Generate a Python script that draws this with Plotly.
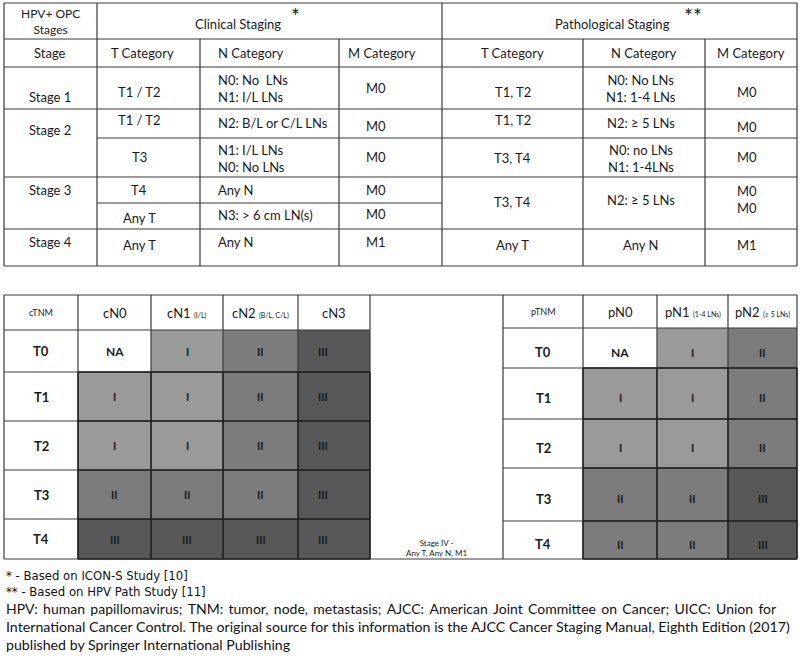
import plotly.graph_objects as go

W, H = 800, 658
FONT = "Lato, 'Open Sans', sans-serif"
NARROW = "'Liberation Sans Narrow', 'DejaVu Sans Condensed', Lato, sans-serif"
INK = "#1a1a1a"

# ---------------- data ----------------
clin_title = "Clinical Staging"
path_title = "Pathological Staging"
head_left = "HPV+ OPC<br>Stages"
clin_header = ["Stage", "T Category", "N Category", "M Category"]
path_header = ["T Category", "N Category", "M Category"]
stage_labels = ["Stage 1", "Stage 2", "Stage 3", "Stage 4"]

clin_T = ["T1 / T2", "T1 / T2", "T3", "T4", "Any T", "Any T"]
clin_N = ["N0: No  LNs<br>N1: I/L LNs", "N2: B/L or C/L LNs", "N1: I/L LNs<br>N0: No LNs",
          "Any N", "N3: > 6 cm LN(s)", "Any N"]
clin_M = ["M0", "M0", "M0", "M0", "M0", "M1"]

path_T = ["T1, T2", "T1, T2", "T3, T4", "T3, T4", "Any T"]
path_N = ["N0: No LNs<br>N1: 1-4 LNs", "N2: ≥ 5 LNs", "N0: no LNs<br>N1: 1-4LNs", "N2: ≥ 5 LNs", "Any N"]
path_M = ["M0", "M0", "M0", "M0<br>M0", "M1"]

grid_rows = ["T0", "T1", "T2", "T3", "T4"]
c_corner = "cTNM"
c_cols = ["cN0", "cN1 <span style='font-size:7px'>(I/L)</span>",
          "cN2 <span style='font-size:7px'>(B/L, C/L)</span>", "cN3"]
c_stage = [[0, 1, 2, 3],
           [1, 1, 2, 3],
           [1, 1, 2, 3],
           [2, 2, 2, 3],
           [3, 3, 3, 3]]
p_corner = "pTNM"
p_cols = ["pN0", "pN1 <span style='font-size:7px'>(1-4 LNs)</span>",
          "pN2 <span style='font-size:7px'>(≥ 5 LNs)</span>"]
p_stage = [[0, 1, 2],
           [1, 1, 2],
           [1, 1, 2],
           [2, 2, 3],
           [2, 2, 3]]
roman = {0: "NA", 1: "I", 2: "II", 3: "III"}
stage4_note = "Stage IV -<br>Any T, Any N, M1"

footnotes = [
    "* - Based on ICON-S Study [10]",
    "** - Based on HPV Path Study [11]",
    "HPV: human papillomavirus; TNM: tumor, node, metastasis; AJCC: American Joint Committee on Cancer; UICC: Union for",
    "International Cancer Control. The original source for this information is the AJCC Cancer Staging Manual, Eighth Edition (2017)",
    "published by Springer International Publishing",
]
justify_line = 2  # this footnote line is justified in the source

# ---------------- layout geometry ----------------
top_x = [4, 97, 200, 339, 442, 583, 705, 797]
top_y = [3, 39, 67, 109, 138, 177, 203, 229, 266]
clin_T_y = [92, 120, 157, 190, 218, 245]
clin_N_y = [88, 123, 158, 190, 215, 242]
clin_M_y = [88, 126, 157, 190, 214, 242]
stage_y = [97, 130, 190, 242]
path_T_y = [92, 120, 158, 202, 245]
path_N_y = [88, 123, 158, 200, 245]
path_M_y = [92, 127, 157, 199, 245]

c_x = [4, 78, 151, 223, 298, 370]
c_y = [295, 330, 372, 421, 470, 519, 559]
p_x = [503, 583, 657, 728, 797]
p_y = [295, 328, 368, 419, 468, 521, 559]
foot_y = [575, 591, 608, 626, 644]

stage_colors = [[0, "#ffffff"], [1 / 3, "#9a9a9a"], [2 / 3, "#7c7c7c"], [1, "#585858"]]

fig = go.Figure()

fig.add_trace(go.Heatmap(z=c_stage, x=c_x[1:], y=c_y[1:], colorscale=stage_colors,
                         zmin=0, zmax=3, showscale=False, hoverinfo="skip"))
fig.add_trace(go.Heatmap(z=p_stage, x=p_x[1:], y=p_y[1:], colorscale=stage_colors,
                         zmin=0, zmax=3, showscale=False, hoverinfo="skip"))

shapes = []
LC = "#3a3a3a"


def hline(y, x0, x1, w=1.2, c=LC):
    shapes.append(dict(type="line", x0=x0, x1=x1, y0=y, y1=y, line=dict(color=c, width=w)))


def vline(x, y0, y1, w=1.2, c=LC):
    shapes.append(dict(type="line", x0=x, x1=x, y0=y0, y1=y1, line=dict(color=c, width=w)))


X0, X1 = top_x[0], top_x[-1]
Y0, Y1 = top_y[0], top_y[-1]
hline(Y0, X0, X1); hline(Y1, X0, X1)
vline(X0, Y0, Y1); vline(X1, Y0, Y1)
hline(top_y[1], X0, X1)
hline(top_y[2], X0, X1)
hline(top_y[3], X0, X1)
hline(top_y[4], top_x[1], X1)
hline(top_y[5], X0, X1)
hline(top_y[6], top_x[1], top_x[4])
hline(top_y[7], X0, X1)
vline(top_x[1], Y0, Y1)
vline(top_x[4], Y0, Y1)
for xx in (top_x[2], top_x[3], top_x[5], top_x[6]):
    vline(xx, top_y[1], Y1)

hline(c_y[0], c_x[0], p_x[-1])
hline(c_y[-1], c_x[0], p_x[-1])
for xx in c_x:
    vline(xx, c_y[0], c_y[-1])
for xx in p_x:
    vline(xx, p_y[0], p_y[-1])
for yy in c_y[1:-1]:
    hline(yy, c_x[0], c_x[-1])
for yy in p_y[1:-1]:
    hline(yy, p_x[0], p_x[-1])
for yy in c_y[2:]:
    hline(yy, c_x[1], c_x[-1], 1.4, "#202020")
for xx in c_x[1:]:
    vline(xx, c_y[2], c_y[-1], 1.4, "#202020")
for yy in p_y[2:]:
    hline(yy, p_x[1], p_x[-1], 1.4, "#202020")
for xx in p_x[1:]:
    vline(xx, p_y[2], p_y[-1], 1.4, "#202020")

ann = []


def txt(x, y, s, size=13, anchor="center", color=INK, family=FONT):
    ann.append(dict(x=x, y=y, text=s, showarrow=False, xanchor=anchor, yanchor="middle",
                    align="left" if anchor == "left" else "center",
                    font=dict(family=family, size=size, color=color)))


txt(50, 21, head_left, 12)
txt(238, 24, clin_title, 13)
txt(295, 15, "*", 21)
txt(612, 24, path_title, 13)
txt(693, 15, "**", 21)
txt(50, 53, clin_header[0], 13)
txt(142, 53, clin_header[1], 13)
txt(216, 53, clin_header[2], 13, "left")
txt(382, 53, clin_header[3], 13)
for i, h in enumerate(path_header):
    txt((top_x[4 + i] + top_x[5 + i]) / 2, 53, h, 13)

for s, y in zip(stage_labels, stage_y):
    txt(50, y, s, 13)
for t, y in zip(clin_T, clin_T_y):
    txt(139, y, t, 13)
for t, y in zip(clin_N, clin_N_y):
    txt(216, y, t, 13, "left")
for t, y in zip(clin_M, clin_M_y):
    txt(376, y, t, 13)
for t, y in zip(path_T, path_T_y):
    txt((top_x[4] + top_x[5]) / 2, y, t, 13)
for t, y in zip(path_N, path_N_y):
    txt((top_x[5] + top_x[6]) / 2 - 3, y, t, 13)
for t, y in zip(path_M, path_M_y):
    txt((top_x[6] + top_x[7]) / 2 - 4, y, t, 13)

hy = (c_y[0] + c_y[1]) / 2
txt((c_x[0] + c_x[1]) / 2, hy, c_corner, 9)
for j, h in enumerate(c_cols):
    txt((c_x[j + 1] + c_x[j + 2]) / 2, hy, h, 13)
for i, r in enumerate(grid_rows):
    cy = (c_y[i + 1] + c_y[i + 2]) / 2
    txt((c_x[0] + c_x[1]) / 2, cy, "<b>" + r + "</b>", 13)
    for j, v in enumerate(c_stage[i]):
        cx = (c_x[j + 1] + c_x[j + 2]) / 2
        if j == len(c_stage[i]) - 1:
            cx -= 11
        txt(cx, cy, "<b>" + roman[v] + "</b>", 12 if v == 0 else 11)

hy = (p_y[0] + p_y[1]) / 2
txt((p_x[0] + p_x[1]) / 2, hy, p_corner, 9)
for j, h in enumerate(p_cols):
    txt((p_x[j + 1] + p_x[j + 2]) / 2, hy, h, 13)
for i, r in enumerate(grid_rows):
    cy = (p_y[i + 1] + p_y[i + 2]) / 2 + 4
    txt((p_x[0] + p_x[1]) / 2, cy, "<b>" + r + "</b>", 13)
    for j, v in enumerate(p_stage[i]):
        cx = (p_x[j + 1] + p_x[j + 2]) / 2
        txt(cx, cy, "<b>" + roman[v] + "</b>", 12 if v == 0 else 11)

txt((c_x[-1] + p_x[0]) / 2, 548, stage4_note, 8)

for k, (s, y) in enumerate(zip(footnotes, foot_y)):
    if k < 2:
        txt(4, y, s, 13, "left", "#111111", NARROW)
    else:
        if k == justify_line:
            s = s.replace(" ", " \u2009")
        txt(4, y, s, 14 if k == justify_line else 14.2, "left", "#111111")

fig.update_layout(
    width=W, height=H,
    margin=dict(l=0, r=0, t=0, b=0, pad=0),
    paper_bgcolor="white", plot_bgcolor="white",
    xaxis=dict(range=[0, W], visible=False, fixedrange=True),
    yaxis=dict(range=[H, 0], visible=False, fixedrange=True),
    shapes=shapes, annotations=ann, showlegend=False,
)

fig.write_html("out.html", config={"displayModeBar": False},
               post_script="document.body.style.margin='0';document.body.style.overflow='hidden';")
